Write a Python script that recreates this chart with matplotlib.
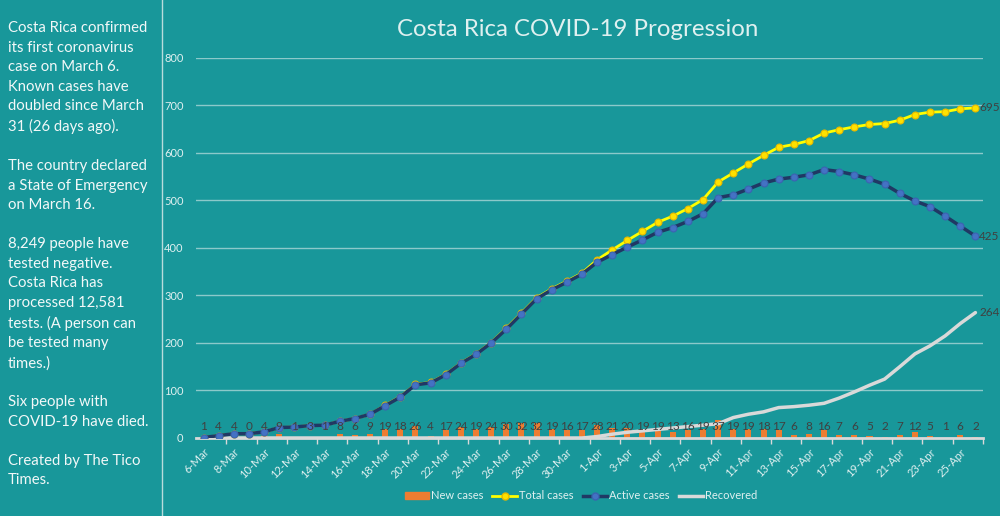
import matplotlib
matplotlib.use('Agg')
import matplotlib.pyplot as plt
from matplotlib.lines import Line2D
from matplotlib.patches import Patch

dates = ['6-Mar', '7-Mar', '8-Mar', '9-Mar', '10-Mar', '11-Mar', '12-Mar', '13-Mar', '14-Mar',
         '15-Mar', '16-Mar', '17-Mar', '18-Mar', '19-Mar', '20-Mar', '21-Mar', '22-Mar', '23-Mar',
         '24-Mar', '25-Mar', '26-Mar', '27-Mar', '28-Mar', '29-Mar', '30-Mar', '31-Mar',
         '1-Apr', '2-Apr', '3-Apr', '4-Apr', '5-Apr', '6-Apr', '7-Apr', '8-Apr', '9-Apr', '10-Apr',
         '11-Apr', '12-Apr', '13-Apr', '14-Apr', '15-Apr', '16-Apr', '17-Apr', '18-Apr', '19-Apr',
         '20-Apr', '21-Apr', '22-Apr', '23-Apr', '24-Apr', '25-Apr', '26-Apr']

new_cases = [1, 4, 4, 0, 4, 9, 1, 3, 1, 8, 6, 9, 19, 18, 26, 4, 17, 24, 19, 24,
             30, 32, 32, 19, 16, 17, 28, 21, 20, 19, 19, 13, 16, 19, 37, 19, 19, 18, 17, 6,
             8, 16, 7, 6, 5, 2, 7, 12, 5, 1, 6, 2]

total_cases = [1, 5, 9, 9, 13, 22, 23, 26, 27, 35, 41, 50, 69, 87, 113, 117, 134, 158, 177, 201,
               231, 263, 295, 314, 330, 347, 375, 396, 416, 435, 454, 467, 483, 502, 539, 558,
               577, 595, 612, 618, 626, 642, 649, 655, 660, 662, 669, 681, 686, 687, 693, 695]

active_cases = [1, 5, 9, 9, 13, 22, 23, 26, 27, 35, 41, 50, 68, 86, 112, 116, 133, 157, 176, 200,
                229, 261, 293, 312, 328, 345, 370, 386, 402, 417, 433, 443, 456, 472, 506, 512,
                524, 537, 545, 549, 554, 565, 561, 554, 545, 534, 515, 499, 487, 467, 446, 425]

recovered = [0, 0, 0, 0, 0, 0, 0, 0, 0, 0, 0, 0, 0, 0, 0, 0, 0, 0, 0, 0,
             0, 0, 0, 0, 0, 0, 3, 8, 12, 15, 18, 21, 24, 27, 30, 43,
             50, 55, 64, 66, 69, 73, 84, 97, 111, 124, 150, 177, 194, 215, 241, 264]

y_ticks = [0, 100, 200, 300, 400, 500, 600, 700, 800]

side_text = ("Costa Rica confirmed\nits first coronavirus\ncase on March 6.\nKnown cases have\n"
             "doubled since March\n31 (26 days ago).\n\nThe country declared\na State of Emergency\n"
             "on March 16.\n\n8,249 people have\ntested negative.\nCosta Rica has\nprocessed 12,581\n"
             "tests. (A person can\nbe tested many\ntimes.)\n\nSix people with\nCOVID-19 have died.\n\n"
             "Created by The Tico\nTimes.")

BG = '#18979a'
LIGHT = '#dff0f0'
plt.rcParams['font.family'] = ['Lato', 'DejaVu Sans']

fig = plt.figure(figsize=(10, 5.16), dpi=100, facecolor=BG)
ax = fig.add_axes([0.196, 0.1512, 0.787, 0.7364])
ax.set_facecolor(BG)

x = list(range(len(dates)))
ax.bar(x, new_cases, width=0.4, color='#ED7D31', zorder=2)
ax.plot(x, recovered, color='#D9D9D9', lw=2.5, zorder=3, solid_capstyle='round')
ax.plot(x, total_cases, color='#FFFF00', lw=2, marker='o', ms=5,
        mfc='#FFE100', mec='#E6B800', mew=0.8, zorder=4)
ax.plot(x, active_cases, color='#203864', lw=2.5, marker='o', ms=5,
        mfc='#4472C4', mec='#3a64b0', mew=0.8, zorder=5)

for i, v in enumerate(new_cases):
    ax.text(i, 25, str(v), ha='center', va='center', fontsize=8.5, color='#404040', zorder=6)

last = len(dates) - 1
for series in (total_cases, active_cases, recovered):
    ax.text(last + 0.25, series[-1], str(series[-1]), ha='left', va='center',
            fontsize=8.5, color='#404040', zorder=6)

ax.set_xlim(-0.5, len(dates) - 0.5)
ax.set_ylim(0, 800)
ax.set_yticks(y_ticks)
ax.set_yticklabels([str(t) for t in y_ticks], color=LIGHT, fontsize=8)
ax.yaxis.grid(True, color='#8cc9ca', lw=1)
ax.set_axisbelow(True)
ax.tick_params(axis='y', length=0, pad=9)

ax.set_xticks(x[::2])
ax.set_xticklabels(dates[::2], rotation=45, ha='right', va='top', color=LIGHT,
                   fontsize=8, rotation_mode='anchor')
ax.set_xticks([i + 1.5 for i in range(0, len(dates) - 1, 2)], minor=True)
ax.tick_params(axis='x', which='major', length=0, pad=6)
ax.tick_params(axis='x', which='minor', length=4, color='#D9D9D9', width=1)
for s in ['top', 'right', 'left']:
    ax.spines[s].set_visible(False)
ax.spines['bottom'].set_color('#D9D9D9')
ax.spines['bottom'].set_linewidth(2)

fig.text(0.578, 0.943, 'Costa Rica COVID-19 Progression', ha='center', va='center',
         fontsize=17.3, color=LIGHT)

fig.text(0.008, 0.959, side_text, ha='left', va='top', fontsize=10.7, color='#f2f8f8',
         linespacing=1.5)

fig.add_artist(Line2D([0.162, 0.162], [0, 1], color='#b8dcdc', lw=1, transform=fig.transFigure))

handles = [Patch(color='#ED7D31'),
           Line2D([], [], color='#FFFF00', lw=2, marker='o', ms=5, mfc='#FFE100', mec='#E6B800'),
           Line2D([], [], color='#203864', lw=2.5, marker='o', ms=5, mfc='#4472C4', mec='#3a64b0'),
           Line2D([], [], color='#D9D9D9', lw=2.5)]
leg = fig.legend(handles, ['New cases', 'Total cases', 'Active cases', 'Recovered'],
                 loc='center', bbox_to_anchor=(0.581, 0.039), ncol=4, frameon=False,
                 fontsize=8, handlelength=2.2, handleheight=0.5, columnspacing=0.8,
                 handletextpad=0.2)
for t in leg.get_texts():
    t.set_color(LIGHT)

fig.savefig('out.png', dpi=100, facecolor=BG)
